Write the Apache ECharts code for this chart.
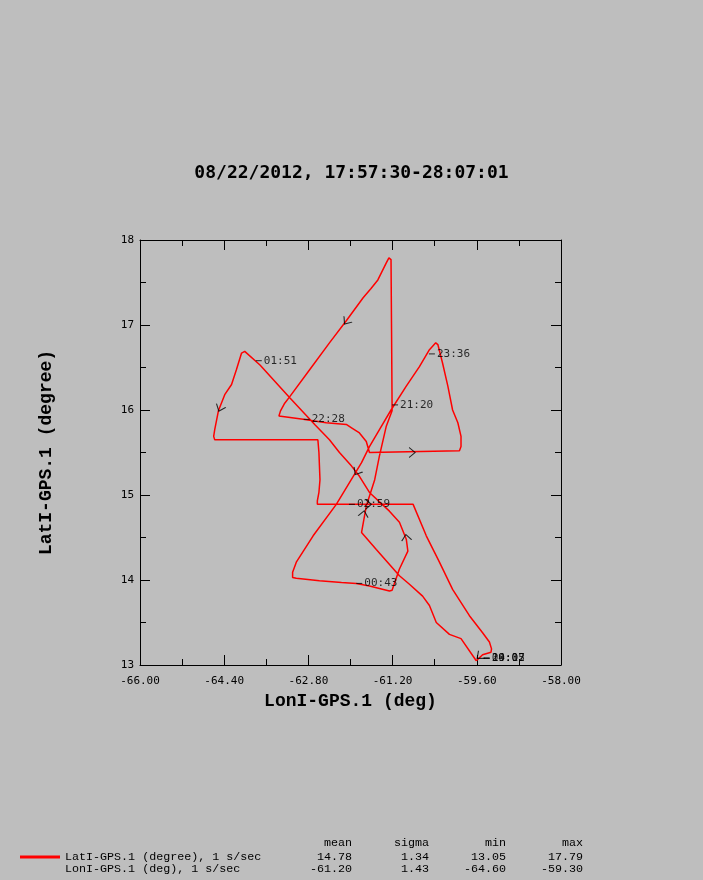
<!DOCTYPE html>
<html>
<head>
<meta charset="utf-8">
<script src="https://cdn.jsdelivr.net/npm/echarts@6/dist/echarts.min.js"></script>
<style>
html,body{margin:0;padding:0;background:#bebebe;}
#chart{width:703px;height:880px;}
</style>
</head>
<body>
<div id="chart"></div>
<script>
// Flight track (longitude, latitude) in time order
const trackLon = [-59.61,-59.90,-60.12,-60.37,-60.50,-60.63,-60.88,-61.07,-61.51,-61.79,-61.70,-61.54,-61.45,-61.32,-61.21,-61.21,-61.22,-61.23,-61.24,-61.27,-61.32,-61.48,-61.61,-61.76,-62.08,-62.40,-62.78,-63.15,-63.25,-63.33,-63.36,-63.34,-62.90,-62.68,-62.46,-62.08,-61.98,-61.83,-61.70,-61.64,-59.93,-59.90,-59.90,-59.96,-60.06,-60.15,-60.25,-60.34,-60.38,-60.40,-60.50,-60.69,-60.94,-61.23,-61.45,-61.64,-61.79,-62.27,-62.71,-63.03,-63.10,-63.10,-63.03,-62.59,-62.17,-61.89,-61.64,-61.26,-61.21,-61.07,-60.91,-60.94,-61.07,-61.26,-61.64,-61.83,-61.98,-62.21,-62.40,-62.68,-63.15,-63.72,-64.01,-64.04,-64.07,-64.17,-64.26,-64.39,-64.51,-64.58,-64.60,-64.58,-62.62,-62.60,-62.58,-62.60,-62.63,-62.63,-60.81,-60.56,-60.31,-60.06,-59.74,-59.49,-59.36,-59.32,-59.33,-59.49,-59.61];
const trackLat = [13.05,13.31,13.36,13.50,13.70,13.81,13.95,14.05,14.36,14.56,14.87,15.18,15.46,15.81,15.99,16.06,16.94,17.77,17.79,17.79,17.73,17.53,17.43,17.32,17.05,16.79,16.47,16.16,16.08,15.99,15.93,15.91,15.89,15.87,15.85,15.83,15.79,15.73,15.63,15.50,15.52,15.57,15.69,15.85,16.00,16.28,16.55,16.77,16.79,16.79,16.71,16.51,16.28,16.00,15.77,15.57,15.38,14.89,14.52,14.21,14.09,14.03,14.02,13.99,13.97,13.96,13.93,13.87,13.88,14.13,14.34,14.48,14.68,14.81,15.03,15.22,15.34,15.50,15.65,15.83,16.14,16.53,16.69,16.70,16.67,16.47,16.30,16.18,15.99,15.77,15.69,15.65,15.65,15.50,15.18,15.03,14.93,14.89,14.89,14.52,14.21,13.89,13.58,13.38,13.27,13.19,13.15,13.12,13.05];

// Time tags along the track
const tagLon = [-61.21,-62.89,-60.51,-61.89,-63.80,-62.03,-59.47,-59.47,-59.47];
const tagLat = [16.06,15.89,16.66,13.96,16.58,14.89,13.08,13.08,13.08];
const tagText = ['21:20','22:28','23:36','00:43','01:51','02:59','19:05','20:12','04:07'];

// Direction arrows (heading in degrees, counter-clockwise from east)
const arrowLon = [-62.08,-64.48,-60.83,-61.88,-61.75,-61.66,-60.94,-59.55];
const arrowLat = [17.04,16.02,15.50,15.27,14.78,14.89,14.50,13.10];
const arrowHeading = [234,248,0,239,79,0,98,220];

// Axis ticks
const xMin = -66, xMax = -58, xStep = 1.6;
const yMin = 13, yMax = 18, yStep = 1;

// Title, names, statistics
const titleText = '08/22/2012, 17:57:30-28:07:01';
const xName = 'LonI-GPS.1 (deg)';
const yName = 'LatI-GPS.1 (degree)';
const statHeaders = ['mean','sigma','min','max'];
const statRows = ['LatI-GPS.1 (degree), 1 s/sec','LonI-GPS.1 (deg), 1 s/sec'];
const latStats = ['14.78','1.34','13.05','17.79'];
const lonStats = ['-61.20','1.43','-64.60','-59.30'];

const track = trackLon.map((v,i)=>[v, trackLat[i]]);
const tags = tagLon.map((v,i)=>({value:[v, tagLat[i]], name: tagText[i]}));
const arrows = arrowLon.map((v,i)=>({value:[v, arrowLat[i]], symbolRotate: arrowHeading[i]}));

const monoSans = '"DejaVu Sans Mono", monospace';
const monoSerif = '"Liberation Mono", "Courier New", monospace';

function axisCommon(extra){
  return Object.assign({
    type:'value',
    axisLine:{show:true, lineStyle:{color:'#000', width:1}},
    axisTick:{show:true, inside:true, length:10, lineStyle:{color:'#000'}},
    minorTick:{show:true, splitNumber:2, length:6, lineStyle:{color:'#000'}},
    splitLine:{show:false},
    minorSplitLine:{show:false}
  }, extra);
}

const colX = [352, 429, 506, 583];
const legendFont = '11.7px ' + monoSerif;
const graphics = [];
statHeaders.forEach((h,i)=>graphics.push({type:'text', style:{text:h, x:colX[i], y:843, textAlign:'right', textVerticalAlign:'middle', align:'right', verticalAlign:'middle', font:legendFont, fill:'#000'}}));
[latStats, lonStats].forEach((row,r)=>{
  const y = 857 + r*12;
  graphics.push({type:'text', style:{text:statRows[r], x:65, y:y, textAlign:'left', textVerticalAlign:'middle', align:'left', verticalAlign:'middle', font:legendFont, fill:'#000'}});
  row.forEach((v,i)=>graphics.push({type:'text', style:{text:v, x:colX[i], y:y, textAlign:'right', textVerticalAlign:'middle', align:'right', verticalAlign:'middle', font:legendFont, fill:'#000'}}));
});
graphics.push({type:'line', shape:{x1:20, y1:857, x2:60, y2:857}, style:{stroke:'#ff0000', lineWidth:3}});

const chart = echarts.init(document.getElementById('chart'), null, {renderer:'canvas'});
chart.setOption({
  backgroundColor:'#bebebe',
  animation:false,
  title:{text:titleText, left:'center', top:159, textStyle:{fontFamily:monoSans, fontWeight:'bold', fontSize:18, color:'#000'}},
  grid:{left:140, right:142, top:240, bottom:215, show:false},
  xAxis:[
    axisCommon({min:xMin, max:xMax, interval:xStep, position:'bottom',
      name:xName, nameLocation:'middle', nameGap:27,
      nameTextStyle:{fontFamily:monoSerif, fontWeight:'bold', fontSize:18, color:'#000'},
      axisLabel:{show:true, margin:11, color:'#000', fontFamily:monoSans, fontSize:11, formatter:v=>v.toFixed(2), showMinLabel:true, showMaxLabel:true, hideOverlap:false}}),
    axisCommon({min:xMin, max:xMax, interval:xStep, position:'top', axisLabel:{show:false}})
  ],
  yAxis:[
    axisCommon({min:yMin, max:yMax, interval:yStep, position:'left',
      name:yName, nameLocation:'middle', nameGap:85,
      nameTextStyle:{fontFamily:monoSerif, fontWeight:'bold', fontSize:18, color:'#000'},
      axisLabel:{show:true, margin:6, color:'#000', fontFamily:monoSans, fontSize:11}}),
    axisCommon({min:yMin, max:yMax, interval:yStep, position:'right', axisLabel:{show:false}})
  ],
  series:[
    {type:'line', data:track, showSymbol:false, symbol:'none', lineStyle:{color:'#ff0000', width:1.5}, z:2, silent:true},
    {type:'scatter', data:arrows, symbol:'path://M0,0L10,6L0,12', symbolSize:[6,10],
      itemStyle:{color:'rgba(0,0,0,0)', borderColor:'#000', borderWidth:1}, z:3, silent:true},
    {type:'scatter', data:tags, symbol:'rect', symbolSize:[6,1], symbolOffset:[3,0],
      itemStyle:{color:'#000'}, z:4, silent:true,
      label:{show:true, position:'right', distance:2, formatter:p=>p.name, color:'#000', fontFamily:monoSans, fontSize:11}}
  ],
  graphic:graphics
});
</script>
</body>
</html>
